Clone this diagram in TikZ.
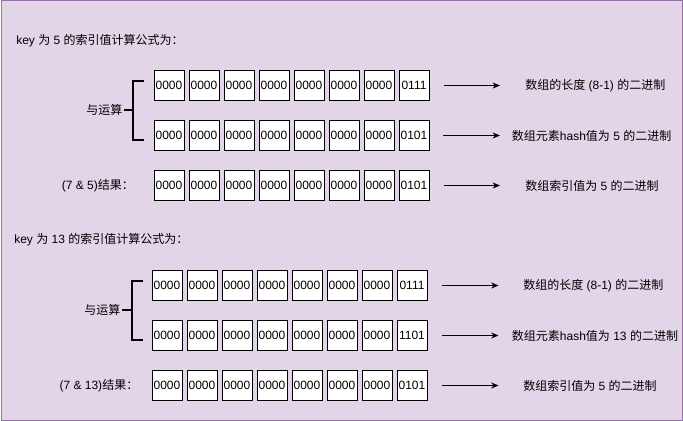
\documentclass[tikz,border=0pt]{standalone}
\usepackage{fontspec}
\setmainfont{Liberation Sans}
\newfontfamily\cjk{Noto Sans CJK SC}
\usetikzlibrary{arrows.meta}
\definecolor{bgfill}{HTML}{E1D5E7}
\definecolor{bgline}{HTML}{9673A6}
\tikzset{
  bit/.style={draw=black, fill=white, line width=0.75pt, minimum width=22.5pt, minimum height=22.5pt, inner sep=0pt, font=\fontsize{9pt}{11pt}\selectfont},
  txt/.style={inner sep=0pt, font=\fontsize{9pt}{11pt}\selectfont},
  conn/.style={line width=0.75pt, -{Stealth[length=5.5pt,width=4.5pt]}},
  brace/.style={line width=1.5pt}
}
\begin{document}
\begin{tikzpicture}[x=0.75pt,y=-0.75pt]
\useasboundingbox (0,0) rectangle (683,421);
\node[draw=bgline, fill=bgfill, line width=0.75pt, minimum width=681.5*0.75pt, minimum height=419.5*0.75pt, inner sep=0pt, anchor=north west] (frame) at (0.5,0.5) {};

% ---------- section 1 ----------
\node[txt, anchor=west] (t1) at (16,41) {key {\cjk 为} 5 {\cjk 的索引值计算公式为：}};
\foreach \i [count=\k] in {0000,0000,0000,0000,0000,0000,0000,0111}
  \node[bit] (a\k) at ({169+35*(\k-1)},85.5) {\i};
\foreach \i [count=\k] in {0000,0000,0000,0000,0000,0000,0000,0101}
  \node[bit] (b\k) at ({169+35*(\k-1)},135.5) {\i};
\foreach \i [count=\k] in {0000,0000,0000,0000,0000,0000,0000,0101}
  \node[bit] (c\k) at ({169+35*(\k-1)},185.5) {\i};

\node[txt, anchor=west] (op1) at (86,110) {\cjk 与运算};
\node[txt, anchor=west] (r1) at (61.5,185.5) {(7 \& 5){\cjk 结果：}};
\coordinate (bt1) at (133,110);
\coordinate (bu1) at (133,80.7);
\coordinate (bd1) at (133,140);
\coordinate (bue1) at (144,80.7);
\coordinate (bde1) at (144,140);
\draw[brace] (op1.east) ++(1.5,0) -- (bt1);
\draw[brace] (bue1) -- (bu1) -- (bd1) -- (bde1);

\coordinate (as1) at (444,85.5);  \coordinate (ae1) at (500,85.5);
\coordinate (as2) at (443,135.5); \coordinate (ae2) at (500,135.5);
\coordinate (as3) at (444,185.5); \coordinate (ae3) at (500,185.5);
\draw[conn] (as1) -- (ae1);
\draw[conn] (as2) -- (ae2);
\draw[conn] (as3) -- (ae3);
\node[txt, anchor=west] (l1) at (525,85.5) {{\cjk 数组的长度} (8-1) {\cjk 的二进制}};
\node[txt, anchor=west] (l2) at (511.7,135.5) {{\cjk 数组元素}hash{\cjk 值为} 5 {\cjk 的二进制}};
\node[txt, anchor=west] (l3) at (525,185.5) {{\cjk 数组索引值为} 5 {\cjk 的二进制}};

% ---------- section 2 ----------
\node[txt, anchor=west] (t2) at (14,240) {key {\cjk 为} 13 {\cjk 的索引值计算公式为：}};
\foreach \i [count=\k] in {0000,0000,0000,0000,0000,0000,0000,0111}
  \node[bit] (d\k) at ({167+35*(\k-1)},285.5) {\i};
\foreach \i [count=\k] in {0000,0000,0000,0000,0000,0000,0000,1101}
  \node[bit] (e\k) at ({167+35*(\k-1)},335.5) {\i};
\foreach \i [count=\k] in {0000,0000,0000,0000,0000,0000,0000,0101}
  \node[bit] (f\k) at ({167+35*(\k-1)},385.5) {\i};

\node[txt, anchor=west] (op2) at (84,310) {\cjk 与运算};
\node[txt, anchor=west] (r2) at (59.3,385.5) {(7 \& 13){\cjk 结果：}};
\coordinate (bt2) at (131.7,310);
\coordinate (bu2) at (131.7,280.7);
\coordinate (bd2) at (131.7,340);
\coordinate (bue2) at (142.7,280.7);
\coordinate (bde2) at (142.7,340);
\draw[brace] (op2.east) ++(1.5,0) -- (bt2);
\draw[brace] (bue2) -- (bu2) -- (bd2) -- (bde2);

\coordinate (as4) at (442,285.5); \coordinate (ae4) at (498.5,285.5);
\coordinate (as5) at (442,335.5); \coordinate (ae5) at (498.5,335.5);
\coordinate (as6) at (442,385.5); \coordinate (ae6) at (498.5,385.5);
\draw[conn] (as4) -- (ae4);
\draw[conn] (as5) -- (ae5);
\draw[conn] (as6) -- (ae6);
\node[txt, anchor=west] (l4) at (523,285.5) {{\cjk 数组的长度} (8-1) {\cjk 的二进制}};
\node[txt, anchor=west] (l5) at (511.7,335.5) {{\cjk 数组元素}hash{\cjk 值为} 13 {\cjk 的二进制}};
\node[txt, anchor=west] (l6) at (523,385.5) {{\cjk 数组索引值为} 5 {\cjk 的二进制}};
\end{tikzpicture}
\end{document}
